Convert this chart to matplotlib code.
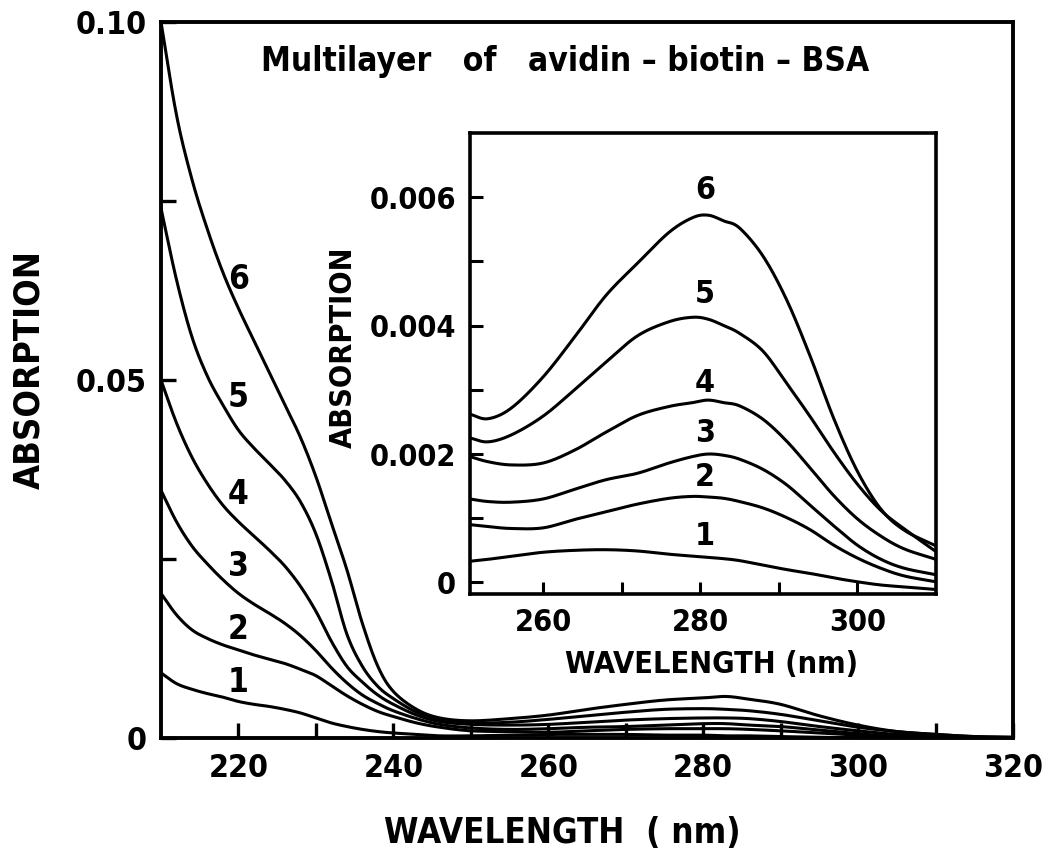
import matplotlib
matplotlib.use("Agg")
import matplotlib.pyplot as plt
import numpy as np

# ---------------- data ----------------
wl_main = [210, 212, 214, 216, 218, 220, 222, 224, 226, 228, 230, 232, 234, 236, 238,
           240, 243, 246, 250, 255, 260, 265, 270, 275, 280, 283, 286, 290, 295, 300,
           305, 310, 315, 320]
main_6 = [0.100, 0.087, 0.078, 0.071, 0.065, 0.060, 0.0555, 0.051, 0.0465, 0.0420, 0.0365,
          0.0300, 0.0235, 0.016, 0.010, 0.0065, 0.0040, 0.0028, 0.0024, 0.0027, 0.0032,
          0.0040, 0.0047, 0.0053, 0.0056, 0.0058, 0.0054, 0.0047, 0.0031, 0.0018, 0.0009,
          0.0005, 0.0002, 0.0001]
main_5 = [0.074, 0.064, 0.056, 0.0505, 0.0465, 0.0430, 0.0405, 0.0383, 0.0360, 0.0330, 0.0285,
          0.0220, 0.0145, 0.0100, 0.0072, 0.0055, 0.0036, 0.0026, 0.0021, 0.0022, 0.0026,
          0.0031, 0.0036, 0.0040, 0.0041, 0.0040, 0.0038, 0.0033, 0.0024, 0.0015, 0.0009,
          0.0005, 0.0002, 0.0001]
main_4 = [0.050, 0.044, 0.0392, 0.0355, 0.0325, 0.0302, 0.0282, 0.0262, 0.0240, 0.0212, 0.0177,
          0.0135, 0.0100, 0.0078, 0.0060, 0.0047, 0.0032, 0.0023, 0.0019, 0.0018, 0.0019,
          0.0022, 0.0025, 0.0027, 0.0028, 0.0028, 0.0027, 0.0023, 0.0016, 0.0010, 0.0005,
          0.0003, 0.0001, 0.0]
main_3 = [0.0346, 0.0302, 0.0268, 0.0243, 0.0221, 0.0202, 0.0187, 0.0174, 0.0160, 0.0143,
          0.0122, 0.0098, 0.0077, 0.0060, 0.0048, 0.0038, 0.0027, 0.0019, 0.0014, 0.0012,
          0.0013, 0.0015, 0.0016, 0.0018, 0.0020, 0.0020, 0.0018, 0.0016, 0.0011, 0.0006,
          0.0002, 0.0001, 0.0, 0.0]
main_2 = [0.0202, 0.0172, 0.0151, 0.0139, 0.0130, 0.0123, 0.0116, 0.0110, 0.0104, 0.0096,
          0.0087, 0.0073, 0.0059, 0.0047, 0.0037, 0.0030, 0.0021, 0.0015, 0.0010, 0.0009,
          0.0008, 0.0010, 0.0012, 0.0013, 0.0013, 0.0013, 0.0012, 0.0010, 0.0007, 0.0004,
          0.0001, 0.0, 0.0, 0.0]
main_1 = [0.0091, 0.0076, 0.0068, 0.0062, 0.0057, 0.0051, 0.0047, 0.0044, 0.0040, 0.0035,
          0.0028, 0.0021, 0.0016, 0.0012, 0.0009, 0.0007, 0.0005, 0.0003, 0.0003, 0.0004,
          0.0005, 0.0005, 0.0005, 0.0004, 0.0004, 0.0003, 0.0003, 0.0002, 0.0001, 0.0,
          0.0, 0.0, 0.0, 0.0]

wl_inset = [250.7, 253, 256, 260, 264, 268, 272, 276, 279, 281, 283, 285, 288, 291, 294,
            297, 300, 303, 306, 310]
inset_6 = [0.00262, 0.00255, 0.00272, 0.00320, 0.00382, 0.00447, 0.00497, 0.00545, 0.00568,
           0.00572, 0.00563, 0.00552, 0.00508, 0.00440, 0.00352, 0.00255, 0.00173, 0.00114,
           0.00081, 0.00057]
inset_5 = [0.00225, 0.00219, 0.00230, 0.00259, 0.00300, 0.00343, 0.00384, 0.00406, 0.00413,
           0.00410, 0.00400, 0.00388, 0.00360, 0.00310, 0.00258, 0.00203, 0.00153, 0.00112,
           0.00083, 0.00048]
inset_4 = [0.00196, 0.00188, 0.00183, 0.00186, 0.00206, 0.00234, 0.00260, 0.00274, 0.00280,
           0.00284, 0.00280, 0.00275, 0.00254, 0.00220, 0.00178, 0.00135, 0.00099, 0.00072,
           0.00052, 0.00036]
inset_3 = [0.00130, 0.00126, 0.00125, 0.00130, 0.00145, 0.00160, 0.00170, 0.00186, 0.00196,
           0.00200, 0.00198, 0.00192, 0.00176, 0.00152, 0.00120, 0.00088, 0.00058, 0.00036,
           0.00022, 0.00012]
inset_2 = [0.00090, 0.00087, 0.00084, 0.00085, 0.00098, 0.00110, 0.00122, 0.00131, 0.00134,
           0.00133, 0.00131, 0.00126, 0.00116, 0.00101, 0.00082, 0.00058, 0.00038, 0.00022,
           0.00010, 0.00001]
inset_1 = [0.00033, 0.00036, 0.00041, 0.00047, 0.00050, 0.00051, 0.00049, 0.00044, 0.00041,
           0.00039, 0.00037, 0.00034, 0.00027, 0.00020, 0.00014, 0.00007, 0.00001, -0.00004,
           -0.00007, -0.00011]

curve_names = ["1", "2", "3", "4", "5", "6"]
main_label_x = [220, 220, 220, 220, 220, 220]
main_label_y = [0.0078, 0.0152, 0.0240, 0.0340, 0.0475, 0.0640]
inset_label_x = [280.6, 280.6, 280.6, 280.6, 280.6, 280.6]
inset_label_y = [0.00072, 0.00163, 0.00232, 0.00310, 0.00448, 0.00610]

main_xticks = [220, 240, 260, 280, 300, 320]
main_xminor = [230, 250, 270, 290, 310]
main_yticks = [0, 0.05, 0.10]
main_yticklabels = ["0", "0.05", "0.10"]
main_yminor = [0.025, 0.075]
inset_xticks = [260, 280, 300]
inset_xminor = [270, 290]
inset_yticks = [0, 0.002, 0.004, 0.006]
inset_yticklabels = ["0", "0.002", "0.004", "0.006"]
inset_yminor = [0.001, 0.003, 0.005]

title_text = "Multilayer   of   avidin – biotin – BSA"


def smooth(xs, ys, n=16):
    """Catmull-Rom curve through the given points (for drawing only)."""
    P = np.column_stack([np.asarray(xs, float), np.asarray(ys, float)])
    P = np.vstack([2 * P[0] - P[1], P, 2 * P[-1] - P[-2]])
    t = np.linspace(0, 1, n, endpoint=False)[:, None]
    out = []
    for i in range(1, len(P) - 2):
        p0, p1, p2, p3 = P[i - 1], P[i], P[i + 1], P[i + 2]
        seg = 0.5 * (2 * p1 + (-p0 + p2) * t + (2 * p0 - 5 * p1 + 4 * p2 - p3) * t ** 2
                     + (-p0 + 3 * p1 - 3 * p2 + p3) * t ** 3)
        out.append(seg)
    out.append(P[-2][None, :])
    Q = np.vstack(out)
    return Q[:, 0], Q[:, 1]


# ---------------- figure ----------------
plt.rcParams['font.family'] = ['DejaVu Sans']
plt.rcParams['font.weight'] = 'bold'
plt.rcParams['font.stretch'] = 'condensed'
FK = dict(fontweight="bold", fontstretch="condensed")

W, H = 1050, 866
fig = plt.figure(figsize=(W / 100, H / 100), dpi=100)

ax = fig.add_axes([161 / W, 1 - 738 / H, (1013 - 161) / W, (738 - 22) / H])
main_series = [main_1, main_2, main_3, main_4, main_5, main_6]
for ys in main_series:
    sx, sy = smooth(wl_main, ys)
    ax.plot(sx, sy, color="black", lw=2.2, solid_joinstyle="round", solid_capstyle="round")
ax.set_xlim(210, 320)
ax.set_ylim(0, 0.10)
ax.set_xticks(main_xticks)
ax.set_xticks(main_xminor, minor=True)
ax.set_yticks(main_yticks)
ax.set_yticklabels(main_yticklabels)
ax.set_yticks(main_yminor, minor=True)
ax.tick_params(which="both", direction="in", length=11, width=2.4,
               labelsize=23, top=False, right=False)
ax.tick_params(axis="x", which="both", pad=11)
ax.tick_params(axis="y", which="both", pad=10)
for s in ax.spines.values():
    s.set_linewidth(2.8)
for lab in ax.get_xticklabels() + ax.get_yticklabels():
    lab.set_fontweight("bold")
    lab.set_fontstretch("condensed")
for n, x, y in zip(curve_names, main_label_x, main_label_y):
    ax.text(x, y, n, fontsize=24, ha="center", va="center", **FK)
ax.text(0.474, 0.945, title_text, transform=ax.transAxes, fontsize=24,
        ha="center", va="center", **FK)
ax.set_xlabel("WAVELENGTH  ( nm)", fontsize=25, **FK)
ax.xaxis.set_label_coords(0.471, -0.1327)
ax.xaxis.label.set_va("center")
ax.set_ylabel("ABSORPTION", fontsize=26, **FK)
ax.yaxis.set_label_coords(-0.155, 0.514)
ax.yaxis.label.set_va("center")

# inset
ax2 = fig.add_axes([470 / W, 1 - 594 / H, (936 - 470) / W, (594 - 133) / H])
inset_series = [inset_1, inset_2, inset_3, inset_4, inset_5, inset_6]
for ys in inset_series:
    sx, sy = smooth(wl_inset, ys)
    ax2.plot(sx, sy, color="black", lw=2.2, solid_joinstyle="round", solid_capstyle="round")
ax2.set_xlim(250.7, 310)
ax2.set_ylim(-0.00018, 0.0070)
ax2.set_xticks(inset_xticks)
ax2.set_xticks(inset_xminor, minor=True)
ax2.set_yticks(inset_yticks)
ax2.set_yticklabels(inset_yticklabels)
ax2.set_yticks(inset_yminor, minor=True)
ax2.tick_params(which="both", direction="in", length=9, width=2.2,
                labelsize=22, pad=10, top=False, right=False)
for s in ax2.spines.values():
    s.set_linewidth(2.6)
for lab in ax2.get_xticklabels() + ax2.get_yticklabels():
    lab.set_fontweight("bold")
    lab.set_fontstretch("condensed")
for n, x, y in zip(curve_names, inset_label_x, inset_label_y):
    ax2.text(x, y, n, fontsize=23, ha="center", va="center", **FK)
ax2.set_xlabel("WAVELENGTH (nm)", fontsize=22, **FK)
ax2.xaxis.set_label_coords(0.519, -0.154)
ax2.xaxis.label.set_va("center")
ax2.set_ylabel("ABSORPTION", fontsize=22, **FK)
ax2.yaxis.set_label_coords(-0.272, 0.536)
ax2.yaxis.label.set_va("center")

fig.savefig("out.png", dpi=100)
